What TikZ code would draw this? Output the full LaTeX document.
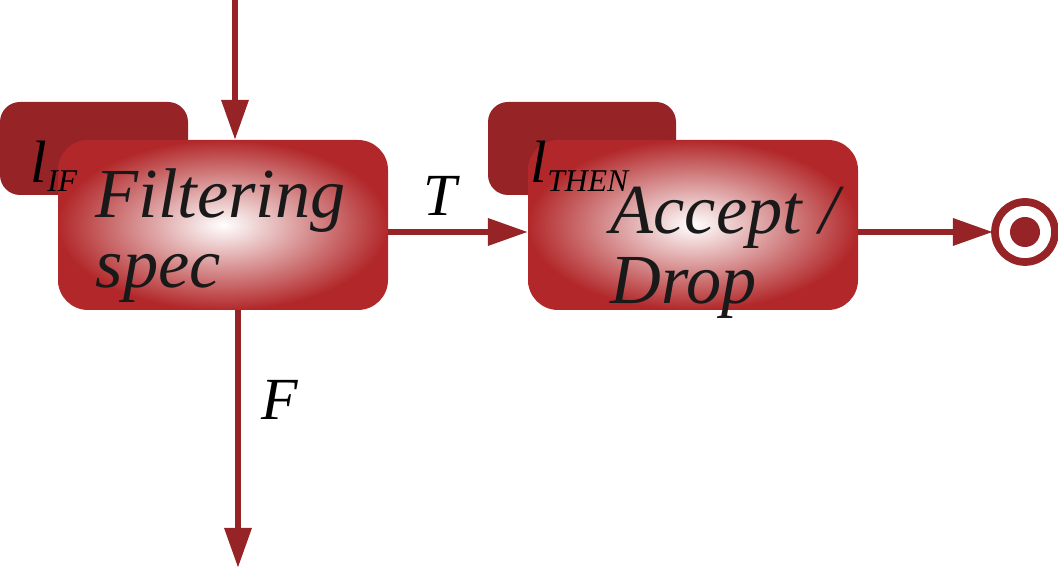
\documentclass[tikz,border=0pt]{standalone}
\usepackage{fontspec}
\setmainfont{Liberation Serif}
\usetikzlibrary{arrows.meta}
\definecolor{dred}{RGB}{150,36,38}
\definecolor{mred}{RGB}{178,40,42}
\begin{document}
\begin{tikzpicture}[x=0.01cm,y=-0.01cm,
  tabbox/.style={fill=dred,rounded corners=0.2cm},
  mainbox/.style={inner sep=0pt,rounded corners=0.3cm,shading=radial,inner color=white,outer color=mred},
  flow/.style={dred,line width=1.8pt,-{Triangle[length=4mm,width=2.6mm]}},
  lbl/.style={font=\fontsize{20}{20}\selectfont\itshape,text=black!90}]
\useasboundingbox (0,0) rectangle (1058,568);
\fill[tabbox] (0,102) rectangle (188,195);
\fill[tabbox] (488,102) rectangle (676,195);
\path[mainbox] (58,140) rectangle (388,310);
\path[mainbox] (528,140) rectangle (858,310);
\node[lbl,align=left,anchor=north west,inner sep=0pt] (f) at (95,168) {Filtering\\spec};
\node[lbl,align=left,anchor=north west,inner sep=0pt] (a) at (610,186) {Accept /\\Drop};
\node[font=\fontsize{17}{17}\selectfont\itshape,anchor=west,inner sep=0pt] (lif) at (30,166) {l\textsubscript{\fontsize{9}{9}\selectfont IF}};
\node[font=\fontsize{17}{17}\selectfont\itshape,anchor=west,inner sep=0pt] (lth) at (530,166) {l\textsubscript{\fontsize{9}{9}\selectfont THEN}};
\coordinate (top) at (235,0);
\coordinate (b1t) at (235,140);
\coordinate (b1r) at (388,232);
\coordinate (b2l) at (528,232);
\coordinate (b2r) at (858,232);
\coordinate (e) at (993,232);
\coordinate (b1b) at (238,310);
\coordinate (bot) at (238,568);
\draw[flow] (top) -- (b1t);
\draw[flow] (b1r) -- (b2l);
\draw[flow] (b2r) -- (e);
\draw[flow] (b1b) -- (bot);
\node[font=\fontsize{17}{17}\selectfont\itshape] (t) at (440,196) {T};
\node[font=\fontsize{17}{17}\selectfont\itshape] (ff) at (280,400) {F};
\draw[dred,line width=2.2pt,fill=white] (1025,232) circle (30);
\fill[dred] (1025,232) circle (15);
\end{tikzpicture}
\end{document}
